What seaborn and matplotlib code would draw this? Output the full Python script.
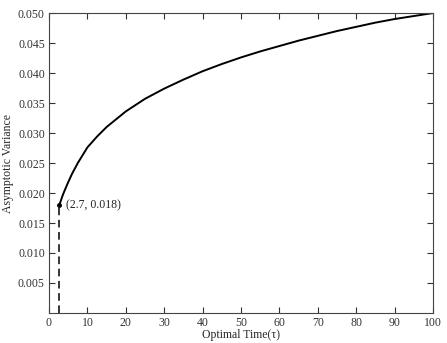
import matplotlib
matplotlib.use('Agg')
import matplotlib.pyplot as plt
import seaborn as sns

# curve
opt_time = [2.7, 3.5, 4, 5, 6, 7.5, 10, 12.5, 15, 20, 25, 30, 35, 40, 45, 50, 55, 60, 65, 70, 75, 80, 85, 90, 95, 100]
asym_var = [0.0180, 0.0195, 0.0203, 0.0218, 0.0232, 0.0250, 0.0276, 0.0294, 0.0310, 0.0336, 0.0357, 0.0374,
            0.0389, 0.0403, 0.0415, 0.0426, 0.0436, 0.0445, 0.0454, 0.0462, 0.0470, 0.0477, 0.0484, 0.0490,
            0.0495, 0.0500]
opt_x, opt_y = 2.7, 0.018
x_ticks = list(range(0, 101, 10))
y_ticks = [0.005, 0.010, 0.015, 0.020, 0.025, 0.030, 0.035, 0.040, 0.045, 0.050]

sns.set_style('ticks')
plt.rcParams['font.family'] = ['Liberation Serif', 'DejaVu Serif']
plt.rcParams['xtick.direction'] = 'in'
plt.rcParams['ytick.direction'] = 'in'

fig = plt.figure(figsize=(4.47, 3.43), dpi=100)
ax = fig.add_axes([0.1096, 0.0875, 0.8591, 0.8745])

sns.lineplot(x=opt_time, y=asym_var, color='black', linewidth=1.4, ax=ax)
ax.plot([opt_x, opt_x], [0, opt_y], color='black', linestyle=(0, (5, 3)), linewidth=1.1)
ax.plot([opt_x], [opt_y], marker='o', markersize=2.5, color='black')
ax.text(opt_x + 1.8, opt_y, '(2.7, 0.018)', fontsize=8.5, va='center', ha='left', color='#222222')

ax.set_xlim(0, 100)
ax.set_ylim(0, 0.05)
ax.set_xticks(x_ticks)
ax.set_yticks(y_ticks)
ax.set_yticklabels([f'{v:.3f}' for v in y_ticks])
ax.tick_params(labelsize=8.5, length=4, width=0.8, colors='#333333', top=True, right=True, pad=3)
for s in ax.spines.values():
    s.set_color('#444444')
    s.set_linewidth(0.8)

ax.set_xlabel('Optimal Time(τ)', fontsize=8.5, labelpad=0)
ax.set_ylabel('Asymptotic Variance', fontsize=8.5, labelpad=3)

fig.savefig('out.png', dpi=100)
